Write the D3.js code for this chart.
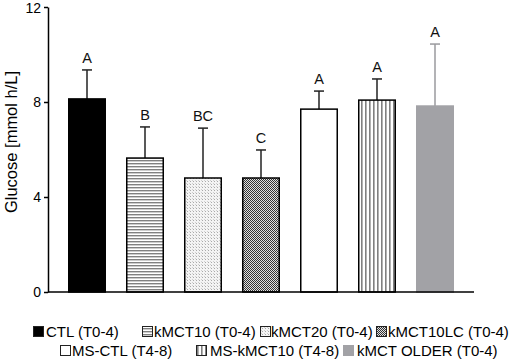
<!DOCTYPE html>
<html>
<head>
<meta charset="utf-8">
<script src="https://cdn.jsdelivr.net/npm/d3@7"></script>
<style>
  body { margin: 0; background: #fff; }
  svg { display: block; font-family: "Liberation Sans", Arial, sans-serif; }
</style>
</head>
<body>
<div class="chart-container"></div>
<script>
// data
const groups = ["CTL (T0-4)", "kMCT10 (T0-4)", "kMCT20 (T0-4)", "kMCT10LC (T0-4)",
                "MS-CTL (T4-8)", "MS-kMCT10 (T4-8)", "kMCT OLDER (T0-4)"];
const means = [8.13, 5.64, 4.8, 4.8, 7.7, 8.08, 7.83];
const errUp = [9.35, 6.95, 6.9, 5.98, 8.46, 8.97, 10.44];
const letters = ["A", "B", "BC", "C", "A", "A", "A"];
const yTicks = [0, 4, 8, 12];

// fill style per group (pattern ids defined below)
const fills = ["#000", "url(#hlines)", "url(#dots)", "url(#checker)", "#fff", "url(#vlines)", "#a2a2a6"];
const strokes = ["#000", "#000", "#000", "#000", "#000", "#000", "#a2a2a6"];
const errColor = ["#222", "#222", "#222", "#222", "#222", "#222", "#9a9a9e"];

// legend layout: two rows, x of swatch and text
const legendPos = [
  {row: 0, sx: 33, tx: 46}, {row: 0, sx: 142, tx: 154}, {row: 0, sx: 260, tx: 271},
  {row: 0, sx: 376, tx: 388}, {row: 1, sx: 60, tx: 72}, {row: 1, sx: 196, tx: 210},
  {row: 1, sx: 343, tx: 357}
];

const width = 514, height = 359;
const svg = d3.select(".chart-container").append("svg")
  .attr("width", width)
  .attr("height", height);

const defs = svg.append("defs");

const hl = defs.append("pattern").attr("id", "hlines")
  .attr("patternUnits", "userSpaceOnUse").attr("width", 4).attr("height", 3);
hl.append("rect").attr("width", 4).attr("height", 3).attr("fill", "#fff");
hl.append("rect").attr("y", 1).attr("width", 4).attr("height", 1.4).attr("fill", "#808080");

const vl = defs.append("pattern").attr("id", "vlines")
  .attr("patternUnits", "userSpaceOnUse").attr("width", 4).attr("height", 4);
vl.append("rect").attr("width", 4).attr("height", 4).attr("fill", "#fff");
vl.append("rect").attr("x", 1).attr("width", 1.6).attr("height", 4).attr("fill", "#808080");

const dt = defs.append("pattern").attr("id", "dots")
  .attr("patternUnits", "userSpaceOnUse").attr("width", 3).attr("height", 3);
dt.append("rect").attr("width", 3).attr("height", 3).attr("fill", "#f4f4f4");
dt.append("rect").attr("x", 1).attr("y", 1).attr("width", 1).attr("height", 1).attr("fill", "#aaa");
dt.append("rect").attr("x", 0).attr("y", 0).attr("width", 1).attr("height", 1).attr("fill", "#d0d0d0");

const ck = defs.append("pattern").attr("id", "checker")
  .attr("patternUnits", "userSpaceOnUse").attr("width", 2).attr("height", 2);
ck.append("rect").attr("width", 2).attr("height", 2).attr("fill", "#e0e0e0");
ck.append("rect").attr("width", 1).attr("height", 1).attr("fill", "#333");
ck.append("rect").attr("x", 1).attr("y", 1).attr("width", 1).attr("height", 1).attr("fill", "#333");

// scales
const x = d3.scaleBand()
  .domain(groups)
  .range([58, 464])
  .paddingInner(0.345)
  .paddingOuter(0.1725);

const y = d3.scaleLinear()
  .domain([0, 12])
  .range([292, 7]);

// bars
const bar = svg.append("g").selectAll("g")
  .data(groups)
  .join("g");

bar.append("line")
  .attr("x1", d => x(d) + x.bandwidth() / 2)
  .attr("x2", d => x(d) + x.bandwidth() / 2)
  .attr("y1", (d, i) => y(means[i]))
  .attr("y2", (d, i) => y(errUp[i]))
  .attr("stroke", (d, i) => errColor[i])
  .attr("stroke-width", 1.5);

bar.append("line")
  .attr("x1", d => x(d) + x.bandwidth() / 2 - 5)
  .attr("x2", d => x(d) + x.bandwidth() / 2 + 5)
  .attr("y1", (d, i) => y(errUp[i]))
  .attr("y2", (d, i) => y(errUp[i]))
  .attr("stroke", (d, i) => errColor[i])
  .attr("stroke-width", 1.5);

bar.append("rect")
  .attr("x", d => x(d) + 0.75)
  .attr("y", (d, i) => y(means[i]))
  .attr("width", x.bandwidth() - 1.5)
  .attr("height", (d, i) => y(0) - y(means[i]))
  .attr("fill", (d, i) => fills[i])
  .attr("stroke", (d, i) => strokes[i])
  .attr("stroke-width", 1.5);

bar.append("text")
  .attr("x", d => x(d) + x.bandwidth() / 2)
  .attr("y", (d, i) => y(errUp[i]) - 7)
  .attr("text-anchor", "middle")
  .attr("font-size", 14.5)
  .attr("fill", "#111")
  .text((d, i) => letters[i]);

// axes
const yAxis = svg.append("g")
  .attr("transform", "translate(48,0)")
  .call(d3.axisLeft(y).tickValues(yTicks).tickSize(4).tickPadding(3).tickSizeOuter(0));
yAxis.select(".domain").attr("stroke", "#000").attr("stroke-width", 1.5);
yAxis.selectAll(".tick line").attr("stroke", "#000").attr("stroke-width", 1.5);
yAxis.selectAll(".tick text")
  .attr("font-size", 14)
  .attr("font-family", "Liberation Sans, Arial, sans-serif")
  .attr("fill", "#000")
  .attr("dy", d => d === 12 ? "0.38em" : "0.32em");

svg.append("line")
  .attr("x1", 48).attr("x2", 474)
  .attr("y1", y(0)).attr("y2", y(0))
  .attr("stroke", "#000")
  .attr("stroke-width", 1.5);

svg.append("text")
  .attr("transform", "translate(17,142) rotate(-90)")
  .attr("text-anchor", "middle")
  .attr("font-size", 16.5)
  .attr("fill", "#000")
  .text("Glucose [mmol h/L]");

// legend
const rowY = [337, 356];
const legend = svg.append("g").selectAll("g")
  .data(groups)
  .join("g");

legend.append("rect")
  .attr("x", (d, i) => legendPos[i].sx + 0.5)
  .attr("y", (d, i) => rowY[legendPos[i].row] - 10.5)
  .attr("width", 10)
  .attr("height", 10)
  .attr("fill", (d, i) => fills[i])
  .attr("stroke", (d, i) => strokes[i] === "#000" ? "#222" : strokes[i])
  .attr("stroke-width", 1);

legend.append("text")
  .attr("x", (d, i) => legendPos[i].tx)
  .attr("y", (d, i) => rowY[legendPos[i].row])
  .attr("font-size", 15)
  .attr("fill", "#000")
  .text(d => d);
</script>
</body>
</html>
